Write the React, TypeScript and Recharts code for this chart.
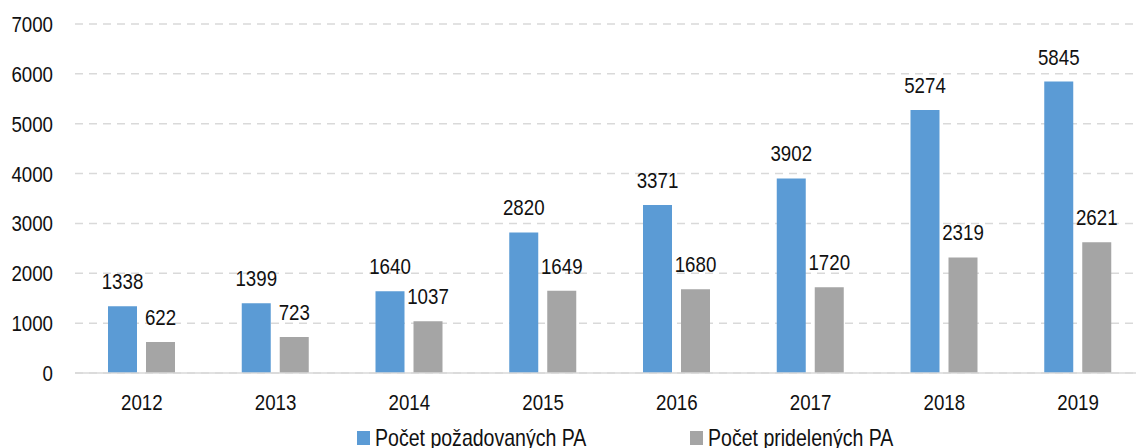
import { Bar, BarChart, CartesianGrid, LabelList, Legend, XAxis, YAxis } from "recharts";

const years = ["2012", "2013", "2014", "2015", "2016", "2017", "2018", "2019"];
const requested = [1338, 1399, 1640, 2820, 3371, 3902, 5274, 5845];
const granted = [622, 723, 1037, 1649, 1680, 1720, 2319, 2621];
const yTicks = [0, 1000, 2000, 3000, 4000, 5000, 6000, 7000];

const seriesNames = ["Počet požadovaných PA", "Počet pridelených PA"];
const BLUE = "#5b9bd5";
const GRAY = "#a5a5a5";
const FONT = '"Liberation Sans", Arial, sans-serif';
// no narrow Arial available, so squeeze Liberation Sans horizontally
const SQUEEZE = 0.85;

const data = years.map((year, i) => ({
  year,
  requested: requested[i],
  granted: granted[i],
}));

function NarrowText({ x, y, anchor, size = 22, children }: any) {
  return (
    <text
      transform={`translate(${x},${y}) scale(${SQUEEZE},1)`}
      textAnchor={anchor}
      fontFamily={FONT}
      fontSize={size}
      fill="#111"
    >
      {children}
    </text>
  );
}

const XTick = ({ x, y, payload }: any) => (
  <NarrowText x={x} y={y + 37} anchor="middle">
    {payload.value}
  </NarrowText>
);

const YTick = ({ x, y, payload }: any) => (
  <NarrowText x={x - 22} y={y + 8} anchor="end">
    {payload.value}
  </NarrowText>
);

const BarLabel = ({ x, y, width, value }: any) => (
  <NarrowText x={x + width / 2} y={y - 17} anchor="middle">
    {value}
  </NarrowText>
);

const CustomLegend = () => {
  const items = [
    { name: seriesNames[0], color: BLUE, left: 357 },
    { name: seriesNames[1], color: GRAY, left: 690 },
  ];
  return (
    <svg width={1145} height={30} style={{ display: "block" }}>
      {items.map((item) => (
        <g key={item.name}>
          <rect x={item.left} y={13} width={13} height={14} fill={item.color} />
          <NarrowText x={item.left + 18} y={28} anchor="start" size={23}>
            {item.name}
          </NarrowText>
        </g>
      ))}
    </svg>
  );
};

export default function App() {
  return (
    <div style={{ position: "absolute", left: 0, top: 0, width: 1136, height: 448, overflow: "hidden", background: "#fff" }}>
      <BarChart
        width={1145}
        height={448}
        data={data}
        margin={{ top: 24, right: 0, bottom: 0, left: 0 }}
        barGap={9}
        barSize={29}
      >
        <CartesianGrid vertical={false} stroke="#d9d9d9" strokeWidth={1.5} strokeDasharray="8 6" />
        <XAxis
          dataKey="year"
          height={45}
          axisLine={{ stroke: "#d9d9d9", strokeWidth: 1.5 }}
          tickLine={false}
          tickSize={0}
          tickMargin={0}
          tick={<XTick />}
        />
        <YAxis
          width={75}
          domain={[0, 7000]}
          ticks={yTicks}
          axisLine={false}
          tickLine={false}
          tickSize={0}
          tickMargin={0}
          tick={<YTick />}
        />
        <Legend
          verticalAlign="bottom"
          content={<CustomLegend />}
          wrapperStyle={{ left: 0, width: 1145, bottom: 0, height: 30 }}
        />
        <Bar dataKey="requested" name={seriesNames[0]} fill={BLUE} isAnimationActive={false}>
          <LabelList dataKey="requested" content={<BarLabel />} />
        </Bar>
        <Bar dataKey="granted" name={seriesNames[1]} fill={GRAY} isAnimationActive={false}>
          <LabelList dataKey="granted" content={<BarLabel />} />
        </Bar>
      </BarChart>
    </div>
  );
}
